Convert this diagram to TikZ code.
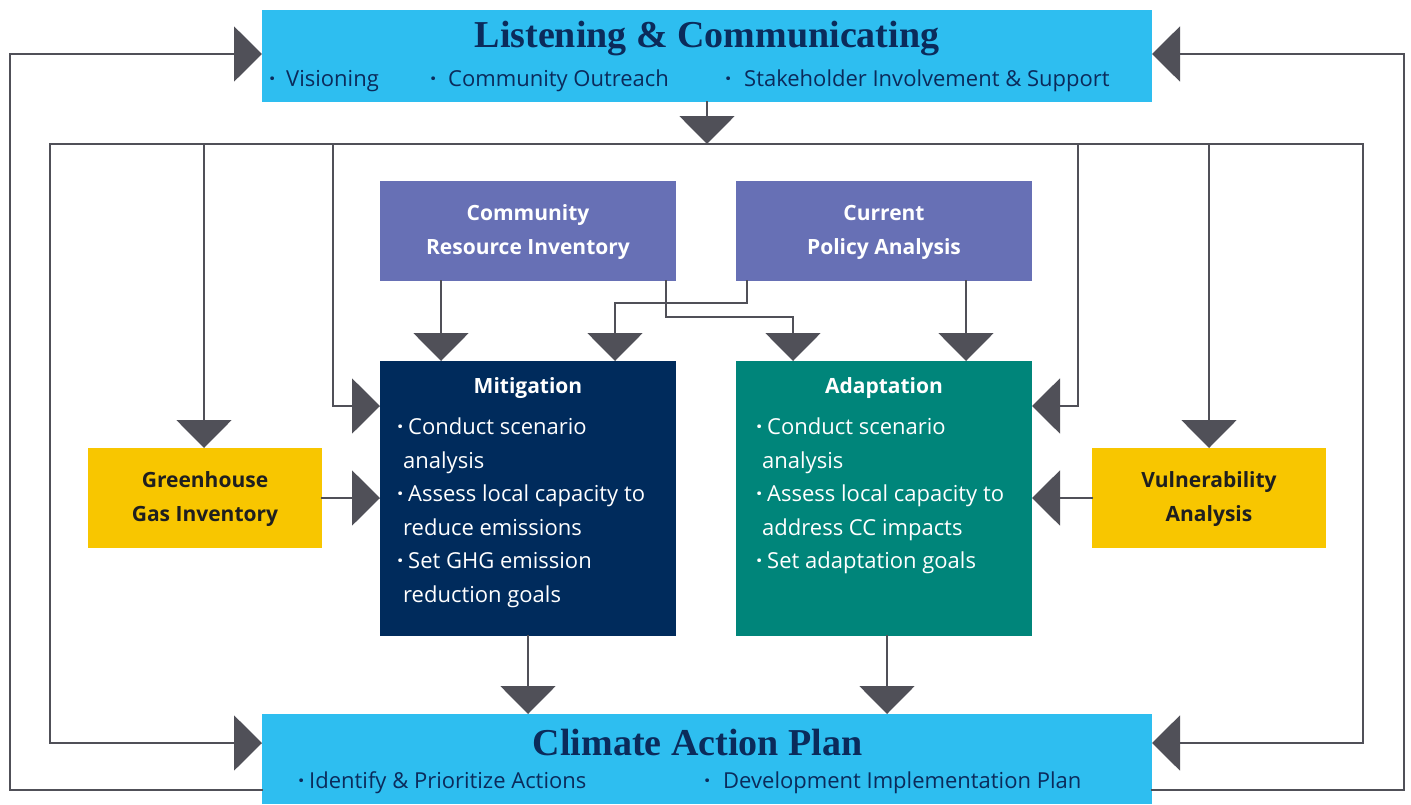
\documentclass[tikz,border=0pt]{standalone}
\usepackage{fontspec}
\setmainfont{Open Sans}
\newfontfamily\titlefont{Liberation Serif}
\usetikzlibrary{arrows.meta,calc}
\definecolor{skyb}{HTML}{2EBEF0}
\definecolor{navyt}{HTML}{0B2B5B}
\definecolor{purp}{HTML}{6770B5}
\definecolor{mitc}{HTML}{002B5C}
\definecolor{adac}{HTML}{00857A}
\definecolor{yel}{HTML}{F8C600}
\definecolor{lnc}{HTML}{505058}
\definecolor{darkt}{HTML}{1F1F1F}
\newcommand{\bdot}[1]{\makebox[#1][l]{\bfseries ·}}
\begin{document}
\begin{tikzpicture}[x=1pt,y=-1pt,
  box/.style={draw=none,inner sep=0pt,outer sep=0pt,rectangle},
  line/.style={draw=lnc,line width=2pt,line cap=rect},
  arr/.style={line,-{Triangle[width=55pt,length=28pt]}},
  ttl/.style={inner sep=0pt,text=navyt,font=\titlefont\bfseries\fontsize{38}{40}\selectfont},
  bt/.style={inner sep=0pt,text=navyt,font=\fontsize{22}{26}\selectfont},
  lbl/.style={inner sep=0pt,font=\bfseries\fontsize{21}{24}\selectfont},
  wt/.style={inner sep=0pt,text=white,font=\fontsize{22}{26}\selectfont}]
\useasboundingbox (0,0) rectangle (1411,804);
\fill[white] (0,0) rectangle (1411,804);
% boxes
\node[box,fill=skyb,minimum width=890pt,minimum height=92pt] (lc) at (707,56) {};
\node[box,fill=skyb,minimum width=890pt,minimum height=90pt] (cap) at (707,759) {};
\node[box,fill=purp,minimum width=296pt,minimum height=100pt] (cri) at (528,231) {};
\node[box,fill=purp,minimum width=296pt,minimum height=100pt] (cpa) at (884,231) {};
\node[box,fill=mitc,minimum width=296pt,minimum height=275pt] (mit) at (528,498.5) {};
\node[box,fill=adac,minimum width=296pt,minimum height=275pt] (ada) at (884,498.5) {};
\node[box,fill=yel,minimum width=234pt,minimum height=100pt] (ghg) at (205,498) {};
\node[box,fill=yel,minimum width=234pt,minimum height=100pt] (vul) at (1209,498) {};
% titles
\node[ttl,anchor=base] (lct) at (707,47) {Listening \& Communicating};
\node[ttl,anchor=base] (capt) at (697.5,755) {Climate Action Plan};
\node[bt,anchor=base west] (lb1) at (269,86) {\bdot{17pt}Visioning};
\node[bt,anchor=base west] (lb2) at (430,86) {\bdot{18pt}Community Outreach};
\node[bt,anchor=base west] (lb3) at (725,86) {\bdot{19pt}Stakeholder Involvement \& Support};
\node[bt,anchor=base west] (cb1) at (298,788) {\bdot{11pt}Identify \& Prioritize Actions};
\node[bt,anchor=base west] (cb2) at (704,788) {\bdot{19pt}Development Implementation Plan};
% labels
\node[lbl,text=white,anchor=base] (cri1) at (528,220) {Community};
\node[lbl,text=white,anchor=base] (cri2) at (528,254) {Resource Inventory};
\node[lbl,text=white,anchor=base] (cpa1) at (884,220) {Current};
\node[lbl,text=white,anchor=base] (cpa2) at (884,254) {Policy Analysis};
\node[lbl,text=darkt,anchor=base] (ghg1) at (205,487) {Greenhouse};
\node[lbl,text=darkt,anchor=base] (ghg2) at (205,521) {Gas Inventory};
\node[lbl,text=darkt,anchor=base] (vul1) at (1209,487) {Vulnerability};
\node[lbl,text=darkt,anchor=base] (vul2) at (1209,521) {Analysis};
\node[lbl,text=white,anchor=base] (mitt) at (528,393) {Mitigation};
\node[lbl,text=white,anchor=base] (adat) at (884,393) {Adaptation};
% mitigation text
\node[wt,anchor=base west] (m1) at (397,434) {\bdot{11pt}Conduct scenario};
\node[wt,anchor=base west] (m2) at (403,468) {analysis};
\node[wt,anchor=base west] (m3) at (397,501) {\bdot{11pt}Assess local capacity to};
\node[wt,anchor=base west] (m4) at (403,535) {reduce emissions};
\node[wt,anchor=base west] (m5) at (397,568) {\bdot{11pt}Set GHG emission};
\node[wt,anchor=base west] (m6) at (403,602) {reduction goals};
% adaptation text
\node[wt,anchor=base west] (a1) at (756,434) {\bdot{11pt}Conduct scenario};
\node[wt,anchor=base west] (a2) at (762,468) {analysis};
\node[wt,anchor=base west] (a3) at (756,501) {\bdot{11pt}Assess local capacity to};
\node[wt,anchor=base west] (a4) at (762,535) {address CC impacts};
\node[wt,anchor=base west] (a5) at (756,568) {\bdot{11pt}Set adaptation goals};
% coordinates
\coordinate (hl) at (707,144);
\coordinate (hL) at (50,144);
\coordinate (hR) at (1363,144);
\coordinate (oL) at (10,790);
\coordinate (oR) at (1404,790);
\coordinate (br1) at (204,144);
\coordinate (br2) at (333,144);
\coordinate (br3) at (1078,144);
\coordinate (br4) at (1209,144);
% connectors
\draw[line] (hL) -- (hR);
\draw[arr] (lc.south) -- (hl);
\draw[arr] (hL) |- ([yshift=16pt]cap.west);
\draw[arr] (hR) |- ([yshift=16pt]cap.east);
\draw[arr] ([yshift=-31pt]cap.west) -- (oL) |- ([yshift=2pt]lc.west);
\draw[arr] ([yshift=-31pt]cap.east) -- (oR) |- ([yshift=2pt]lc.east);
\draw[arr] (br1) -- (br1 |- ghg.north);
\draw[arr] (br2) |- ([yshift=92.5pt]mit.west);
\draw[arr] (br3) |- ([yshift=92.5pt]ada.east);
\draw[arr] (br4) -- (vul.north);
\draw[arr] (ghg.east) -- (ghg.east -| mit.west);
\draw[arr] (vul.west) -- (vul.west -| ada.east);
\draw[arr] ([xshift=-87pt]cri.south) -- ([xshift=-87pt]mit.north);
\draw[arr] ([xshift=138pt]cri.south) -- ++(0,36) -| ([xshift=-91pt]ada.north);
\draw[arr] ([xshift=-137pt]cpa.south) -- ++(0,22) -| ([xshift=87pt]mit.north);
\draw[arr] ([xshift=82pt]cpa.south) -- ([xshift=82pt]ada.north);
\draw[arr] (mit.south) -- (mit.south |- cap.north);
\draw[arr] ([xshift=3pt]ada.south) -- ([xshift=3pt]ada.south |- cap.north);
\end{tikzpicture}
\end{document}
